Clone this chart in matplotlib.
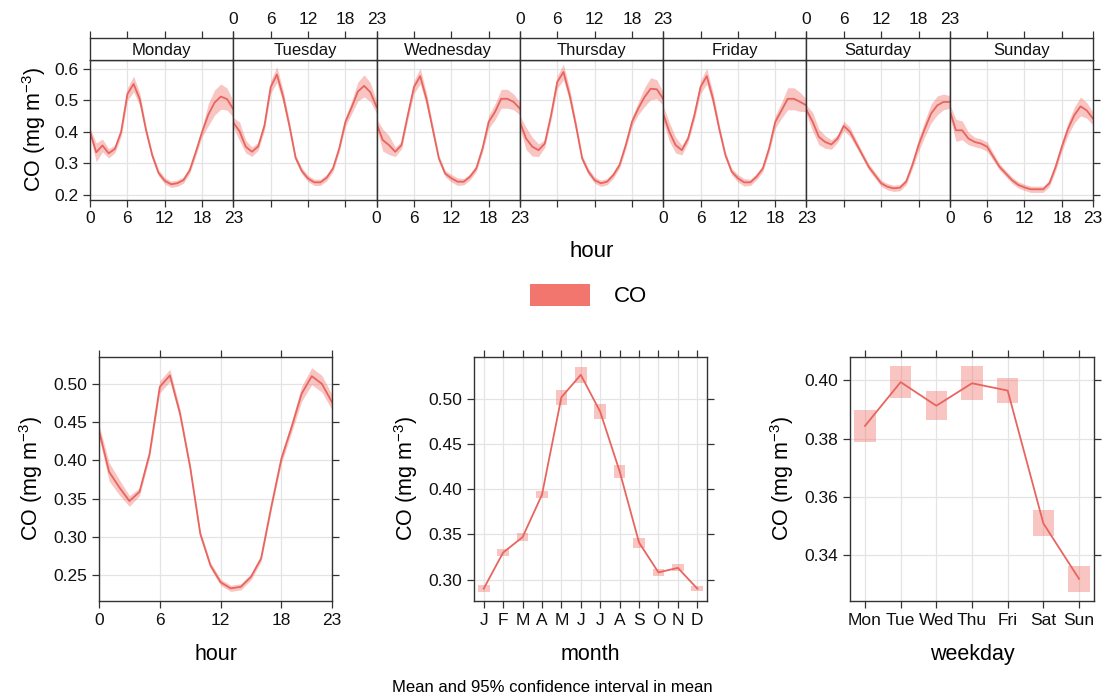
import numpy as np
import matplotlib
matplotlib.use("Agg")
import matplotlib.pyplot as plt
from matplotlib.patches import Rectangle

plt.rcParams['font.family'] = ['Liberation Sans', 'DejaVu Sans']
plt.rcParams['mathtext.fontset'] = 'custom'
plt.rcParams['mathtext.rm'] = 'Liberation Sans'
plt.rcParams['mathtext.it'] = 'Liberation Sans:italic'
plt.rcParams['axes.unicode_minus'] = True

# ---------------- data ----------------
hours = list(range(24))
days = ["Monday", "Tuesday", "Wednesday", "Thursday", "Friday", "Saturday", "Sunday"]

co_mon = [0.400, 0.335, 0.357, 0.332, 0.346, 0.400, 0.520, 0.552, 0.503, 0.405, 0.325, 0.270, 0.245, 0.234, 0.237, 0.247, 0.278, 0.337, 0.400, 0.455, 0.493, 0.512, 0.504, 0.472]
co_tue = [0.430, 0.402, 0.353, 0.337, 0.354, 0.420, 0.542, 0.582, 0.512, 0.420, 0.318, 0.276, 0.252, 0.240, 0.240, 0.255, 0.284, 0.347, 0.432, 0.478, 0.528, 0.546, 0.526, 0.479]
co_wed = [0.426, 0.374, 0.358, 0.337, 0.358, 0.452, 0.542, 0.577, 0.505, 0.410, 0.316, 0.268, 0.253, 0.242, 0.242, 0.258, 0.284, 0.347, 0.432, 0.463, 0.505, 0.505, 0.495, 0.474]
co_thu = [0.432, 0.379, 0.353, 0.342, 0.363, 0.452, 0.558, 0.590, 0.516, 0.420, 0.316, 0.274, 0.247, 0.237, 0.242, 0.263, 0.295, 0.358, 0.432, 0.474, 0.510, 0.537, 0.535, 0.505]
co_fri = [0.458, 0.400, 0.358, 0.342, 0.379, 0.452, 0.542, 0.577, 0.505, 0.410, 0.326, 0.274, 0.253, 0.240, 0.240, 0.258, 0.284, 0.347, 0.432, 0.468, 0.505, 0.505, 0.495, 0.484]
co_sat = [0.470, 0.432, 0.384, 0.368, 0.360, 0.379, 0.419, 0.400, 0.363, 0.326, 0.289, 0.263, 0.237, 0.226, 0.221, 0.223, 0.242, 0.295, 0.358, 0.410, 0.458, 0.484, 0.495, 0.495]
co_sun = [0.468, 0.405, 0.405, 0.379, 0.368, 0.363, 0.353, 0.321, 0.289, 0.268, 0.247, 0.232, 0.224, 0.218, 0.218, 0.218, 0.237, 0.289, 0.353, 0.410, 0.453, 0.481, 0.468, 0.442]

ci_mon = [0.012, 0.030, 0.020, 0.015, 0.012, 0.015, 0.020, 0.025, 0.020, 0.012, 0.010, 0.010, 0.010, 0.010, 0.010, 0.010, 0.010, 0.012, 0.015, 0.035, 0.040, 0.040, 0.035, 0.025]
ci_tue = [0.015, 0.030, 0.020, 0.015, 0.012, 0.015, 0.020, 0.025, 0.020, 0.015, 0.010, 0.010, 0.010, 0.010, 0.010, 0.010, 0.010, 0.012, 0.015, 0.020, 0.030, 0.035, 0.030, 0.020]
ci_wed = [0.015, 0.035, 0.030, 0.015, 0.012, 0.015, 0.020, 0.025, 0.020, 0.015, 0.010, 0.010, 0.012, 0.012, 0.010, 0.010, 0.010, 0.012, 0.020, 0.025, 0.030, 0.030, 0.025, 0.020]
ci_thu = [0.020, 0.035, 0.030, 0.020, 0.012, 0.015, 0.020, 0.025, 0.020, 0.015, 0.010, 0.010, 0.010, 0.010, 0.010, 0.010, 0.010, 0.012, 0.015, 0.020, 0.030, 0.035, 0.030, 0.020]
ci_fri = [0.025, 0.030, 0.025, 0.015, 0.012, 0.015, 0.020, 0.025, 0.020, 0.015, 0.010, 0.010, 0.012, 0.012, 0.010, 0.010, 0.010, 0.012, 0.020, 0.025, 0.035, 0.035, 0.030, 0.020]
ci_sat = [0.015, 0.030, 0.025, 0.020, 0.015, 0.012, 0.015, 0.015, 0.012, 0.010, 0.010, 0.010, 0.010, 0.010, 0.010, 0.010, 0.010, 0.012, 0.020, 0.025, 0.030, 0.030, 0.025, 0.020]
ci_sun = [0.020, 0.035, 0.030, 0.020, 0.015, 0.015, 0.015, 0.012, 0.010, 0.010, 0.010, 0.010, 0.010, 0.010, 0.010, 0.010, 0.010, 0.012, 0.015, 0.020, 0.025, 0.030, 0.025, 0.020]

co_hour = [0.439, 0.385, 0.365, 0.347, 0.359, 0.409, 0.496, 0.511, 0.461, 0.391, 0.304, 0.263, 0.241, 0.233, 0.235, 0.248, 0.272, 0.339, 0.402, 0.443, 0.487, 0.510, 0.500, 0.476]
ci_hour = [0.008, 0.012, 0.010, 0.007, 0.005, 0.005, 0.008, 0.008, 0.006, 0.005, 0.004, 0.004, 0.004, 0.004, 0.004, 0.004, 0.004, 0.004, 0.006, 0.007, 0.010, 0.011, 0.011, 0.010]

months = ["J", "F", "M", "A", "M", "J", "J", "A", "S", "O", "N", "D"]
co_month = [0.290, 0.330, 0.347, 0.394, 0.502, 0.527, 0.486, 0.420, 0.341, 0.308, 0.313, 0.290]
ci_month = [0.004, 0.0035, 0.0045, 0.004, 0.008, 0.009, 0.0085, 0.0075, 0.0055, 0.0043, 0.004, 0.003]

weekdays = ["Mon", "Tue", "Wed", "Thu", "Fri", "Sat", "Sun"]
co_wday = [0.3844, 0.3994, 0.3913, 0.3990, 0.3965, 0.3510, 0.3320]
ci_wday = [0.0056, 0.0054, 0.0049, 0.0058, 0.0044, 0.0045, 0.0044]

day_means = [co_mon, co_tue, co_wed, co_thu, co_fri, co_sat, co_sun]
day_cis = [ci_mon, ci_tue, ci_wed, ci_thu, ci_fri, ci_sat, ci_sun]

# ---------------- style ----------------
W, H = 1105, 698
LINE = '#E8655F'
SHADE = '#F2766E'
EDGE = '#333333'
GRID = '#E4E4E4'
TICK_FS = 12.5
LAB_FS = 15.5
ylab = 'CO (mg m$^{-3}$)'

fig = plt.figure(figsize=(W / 100, H / 100), dpi=100)


def rect(l, t, r, b):
    return [l / W, 1 - b / H, (r - l) / W, (b - t) / H]


def frame(ax):
    for s in ax.spines.values():
        s.set_color(EDGE)
        s.set_linewidth(1.0)
    ax.tick_params(colors=EDGE, labelcolor='#111111', direction='out',
                   length=5, width=0.9, labelsize=TICK_FS)


# ---------------- top: hour by weekday ----------------
left0, right0 = 90, 1093
pw = (right0 - left0) / 7
hticks = [0, 6, 12, 18, 23]
for i, day in enumerate(days):
    l = left0 + i * pw
    ax = fig.add_axes(rect(l, 60, l + pw, 200))
    frame(ax)
    m = np.array(day_means[i])
    c = np.array(day_cis[i])
    ax.fill_between(hours, m - c, m + c, color=SHADE, alpha=0.42, lw=0)
    ax.plot(hours, m, color=LINE, lw=1.3)
    ax.set_xlim(0, 23)
    ax.set_ylim(0.184, 0.628)
    ax.set_xticks(hticks)
    ax.set_yticks([0.2, 0.3, 0.4, 0.5, 0.6])
    ax.grid(True, color=GRID, lw=0.9)
    ax.set_axisbelow(True)
    ax.tick_params(axis='x', bottom=True, top=False,
                   labelbottom=(i % 2 == 0), pad=3)
    ax.tick_params(axis='y', left=(i == 0), right=(i == 6),
                   labelleft=(i == 0), labelright=False)
    if i == 0:
        ax.set_yticklabels(['0.2', '0.3', '0.4', '0.5', '0.6'])
        ax.set_ylabel(ylab, fontsize=LAB_FS, labelpad=4)
    # strip with day name
    sx = fig.add_axes(rect(l, 38, l + pw, 60))
    frame(sx)
    sx.set_xlim(0, 23)
    sx.set_ylim(0, 1)
    sx.set_xticks(hticks)
    sx.set_yticks([])
    sx.tick_params(axis='x', bottom=False, top=True, labelbottom=False,
                   labeltop=(i % 2 == 1), pad=3)
    sx.text(0.5, 0.45, day, transform=sx.transAxes, ha='center', va='center',
            fontsize=12, color='#111111')

fig.text((left0 + right0) / 2 / W, 1 - 252 / H, 'hour', ha='center', va='center',
         fontsize=16)

# legend key
fig.add_artist(Rectangle((530 / W, 1 - 306 / H), 60 / W, 22 / H,
                         transform=fig.transFigure, color=SHADE, lw=0))
fig.text(614 / W, 1 - 296 / H, 'CO', ha='left', va='center', fontsize=16)

# ---------------- bottom left: hour ----------------
ax = fig.add_axes(rect(99, 357, 332, 601))
frame(ax)
m = np.array(co_hour)
c = np.array(ci_hour)
ax.fill_between(hours, m - c, m + c, color=SHADE, alpha=0.42, lw=0)
ax.plot(hours, m, color=LINE, lw=1.3)
ax.set_xlim(0, 23)
ax.set_ylim(0.2165, 0.535)
ax.set_xticks(hticks)
ax.set_yticks([0.25, 0.30, 0.35, 0.40, 0.45, 0.50])
ax.set_yticklabels(['0.25', '0.30', '0.35', '0.40', '0.45', '0.50'])
ax.grid(True, color=GRID, lw=0.9)
ax.set_axisbelow(True)
ax.tick_params(top=True, right=True)
ax.set_xlabel('hour', fontsize=LAB_FS, labelpad=12)
ax.set_ylabel(ylab, fontsize=LAB_FS, labelpad=6)

# ---------------- bottom middle: month ----------------
ax = fig.add_axes(rect(474, 357, 707, 601))
frame(ax)
mx = np.arange(1, 13)
m = np.array(co_month)
c = np.array(ci_month)
ax.bar(mx, 2 * c, bottom=m - c, width=0.6, color=SHADE, alpha=0.42, lw=0)
ax.plot(mx, m, color=LINE, lw=1.3)
ax.set_xlim(0.5, 12.5)
ax.set_ylim(0.2763, 0.5467)
ax.set_xticks(mx)
ax.set_xticklabels(months)
ax.set_yticks([0.30, 0.35, 0.40, 0.45, 0.50])
ax.set_yticklabels(['0.30', '0.35', '0.40', '0.45', '0.50'])
ax.grid(True, color=GRID, lw=0.9)
ax.set_axisbelow(True)
ax.tick_params(top=True, right=True)
ax.set_xlabel('month', fontsize=LAB_FS, labelpad=12)
ax.set_ylabel(ylab, fontsize=LAB_FS, labelpad=6)

# ---------------- bottom right: weekday ----------------
ax = fig.add_axes(rect(850, 357, 1094, 601))
frame(ax)
wx = np.arange(1, 8)
m = np.array(co_wday)
c = np.array(ci_wday)
ax.bar(wx, 2 * c, bottom=m - c, width=0.6, color=SHADE, alpha=0.42, lw=0)
ax.plot(wx, m, color=LINE, lw=1.3)
ax.set_xlim(0.58, 7.42)
ax.set_ylim(0.3244, 0.408)
ax.set_xticks(wx)
ax.set_xticklabels(weekdays)
ax.set_yticks([0.34, 0.36, 0.38, 0.40])
ax.set_yticklabels(['0.34', '0.36', '0.38', '0.40'])
ax.grid(True, color=GRID, lw=0.9)
ax.set_axisbelow(True)
ax.tick_params(top=True, right=True)
ax.set_xlabel('weekday', fontsize=LAB_FS, labelpad=12)
ax.set_ylabel(ylab, fontsize=LAB_FS, labelpad=6)

fig.text(552 / W, 1 - 688 / H, 'Mean and 95% confidence interval in mean',
         ha='center', va='center', fontsize=12)

fig.savefig('out.png', dpi=100)
